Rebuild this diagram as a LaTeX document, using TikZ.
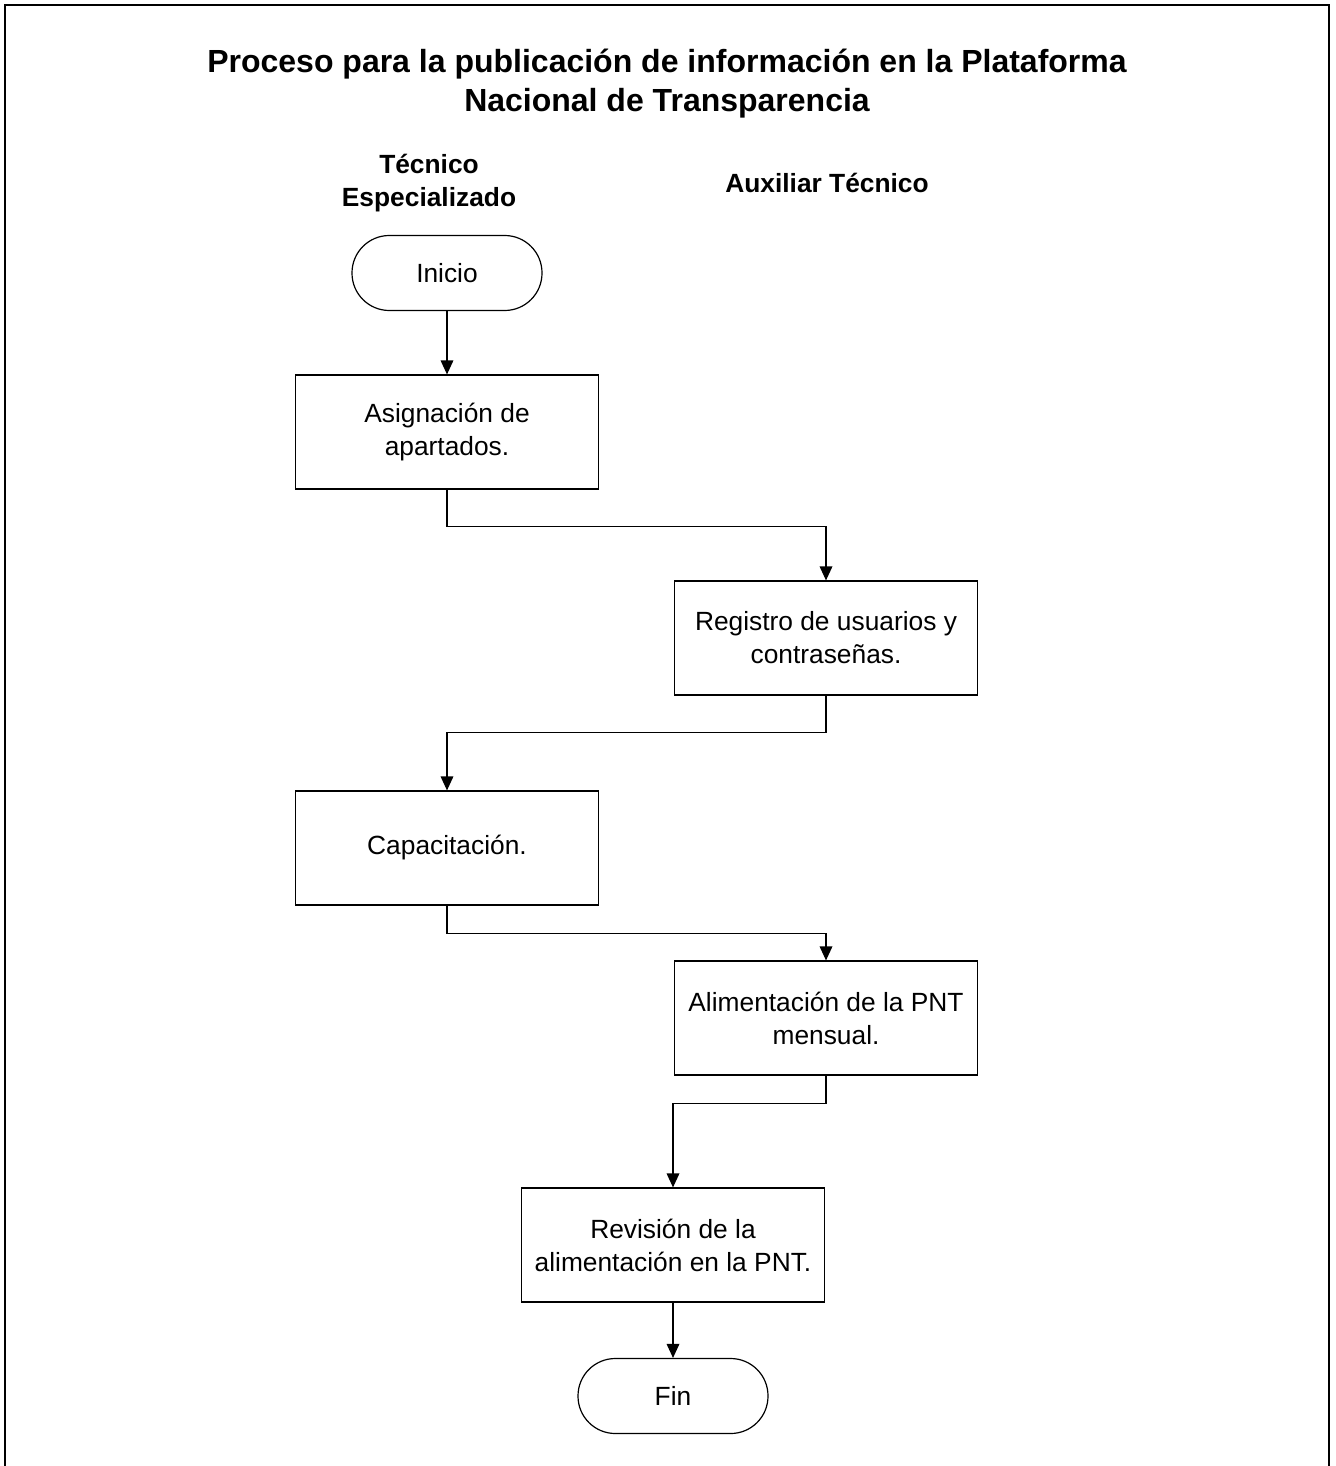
\documentclass[tikz,border=0pt]{standalone}
\usepackage{fontspec}
\setmainfont{Liberation Sans}
\usetikzlibrary{arrows.meta}
\begin{document}
\begin{tikzpicture}[x=0.75pt,y=-0.75pt,
  box/.style={draw,line width=0.9pt,minimum width=227pt,minimum height=85.5pt,align=center,inner sep=2pt,font=\fontsize{19.75}{24.75}\selectfont},
  term/.style={draw,line width=0.9pt,rounded corners=28pt,minimum width=142.5pt,minimum height=56.25pt,align=center,font=\fontsize{19.75}{24.75}\selectfont},
  hdr/.style={align=center,font=\bfseries\fontsize{19.75}{24.75}\selectfont},
  conn/.style={line width=0.9pt,-{Triangle[length=10.5pt,width=9.5pt]}}
]
\useasboundingbox (0,0) rectangle (1335,1466);
\fill[white] (0,0) rectangle (1335,1466);
\draw[line width=1.8pt] (5,1470) -- (5,5) -- (1329,5) -- (1329,1470);

\node[align=center,font=\bfseries\fontsize{24}{29.25}\selectfont] (title) at (667,84)
  {Proceso para la publicación de información en la Plataforma\\Nacional de Transparencia};
\node[hdr] (h1) at (429,183) {Técnico\\Especializado};
\node[hdr] (h2) at (827,183) {Auxiliar Técnico};

\node[term] (ini) at (447,273) {Inicio};
\node[box] (b1) at (447,432) {Asignación de\\apartados.};
\node[box] (b2) at (826,638) {Registro de usuarios y\\contraseñas.};
\node[box] (b3) at (447,848) {Capacitación.};
\node[box] (b4) at (826,1018) {Alimentación de la PNT\\mensual.};
\node[box] (b5) at (673,1245) {Revisión de la\\alimentación en la PNT.};
\node[term] (fin) at (673,1396) {Fin};

\draw[conn] (ini.south) -- (b1.north);
\draw[conn] (b1.south) -- ++(0,37) -| (b2.north);
\draw[conn] (b2.south) -- ++(0,37) -| (b3.north);
\draw[conn] (b3.south) -- ++(0,28) -| (b4.north);
\draw[conn] (b4.south) -- ++(0,28) -| (b5.north);
\draw[conn] (b5.south) -- (fin.north);
\end{tikzpicture}
\end{document}
